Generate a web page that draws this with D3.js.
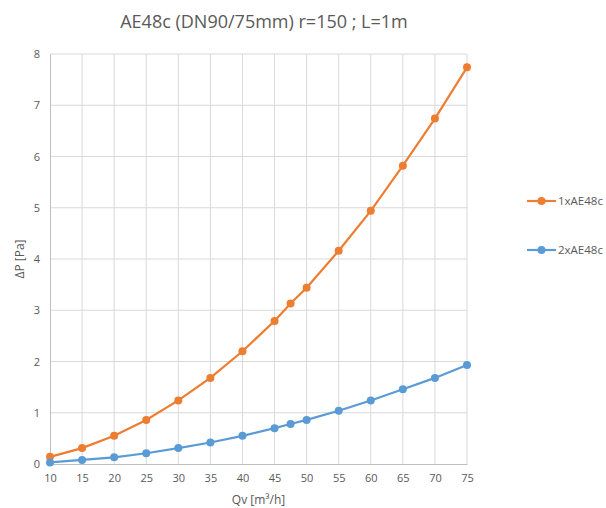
<!DOCTYPE html>
<html>
<head>
<meta charset="utf-8">
<script src="https://cdn.jsdelivr.net/npm/d3@7"></script>
<style>
  body { margin: 0; background: #fff; }
  text { font-family: "Open Sans", "Liberation Sans", sans-serif; fill: #595959; }
</style>
</head>
<body>
<script>
// values
const qv = [10, 15, 20, 25, 30, 35, 40, 45, 47.5, 50, 55, 60, 65, 70, 75];
const dp1 = [0.14, 0.31, 0.55, 0.86, 1.24, 1.68, 2.2, 2.79, 3.13, 3.44, 4.16, 4.94, 5.82, 6.74, 7.74];
const dp2 = [0.03, 0.08, 0.13, 0.21, 0.31, 0.42, 0.55, 0.7, 0.78, 0.86, 1.04, 1.24, 1.46, 1.68, 1.93];
const seriesNames = ["1xAE48c", "2xAE48c"];
const colors = ["#ed7d31", "#5b9bd5"];
const xTicks = d3.range(10, 80, 5);
const yTicks = d3.range(0, 9, 1);

const width = 606, height = 508;
const margin = { top: 54, right: 139, bottom: 44, left: 50 };

const svg = d3.select("body").append("svg")
    .attr("width", width)
    .attr("height", height);

const x = d3.scaleLinear().domain([10, 75]).range([margin.left, width - margin.right]);
const y = d3.scaleLinear().domain([0, 8]).range([height - margin.bottom, margin.top]);

// gridlines
svg.append("g")
    .selectAll("line.h")
    .data(yTicks.slice(1))
    .join("line")
    .attr("x1", margin.left).attr("x2", width - margin.right)
    .attr("y1", d => y(d)).attr("y2", d => y(d))
    .attr("stroke", "#d9d9d9");

svg.append("g")
    .selectAll("line.v")
    .data(xTicks.slice(1))
    .join("line")
    .attr("x1", d => x(d)).attr("x2", d => x(d))
    .attr("y1", margin.top).attr("y2", height - margin.bottom)
    .attr("stroke", "#d9d9d9");

// axes
const xAxis = svg.append("g")
    .attr("transform", `translate(0,${height - margin.bottom})`)
    .call(d3.axisBottom(x).tickValues(xTicks).tickSize(0).tickPadding(10));
xAxis.select(".domain").attr("stroke", "#bfbfbf");
xAxis.selectAll("text").attr("font-size", 11).attr("fill", "#595959");

const yAxis = svg.append("g")
    .attr("transform", `translate(${margin.left},0)`)
    .call(d3.axisLeft(y).tickValues(yTicks).tickSize(0).tickPadding(10));
yAxis.select(".domain").attr("stroke", "#bfbfbf");
yAxis.selectAll("text").attr("font-size", 11).attr("fill", "#595959");

// titles
svg.append("text")
    .attr("x", 264).attr("y", 28)
    .attr("text-anchor", "middle")
    .attr("font-size", 18)
    .text("AE48c (DN90/75mm) r=150 ; L=1m");

svg.append("text")
    .attr("x", x(42.5)).attr("y", 504)
    .attr("text-anchor", "middle")
    .attr("font-size", 12)
    .text("Qv [m³/h]");

svg.append("text")
    .attr("transform", `translate(24,${y(4)}) rotate(-90)`)
    .attr("text-anchor", "middle")
    .attr("font-size", 12)
    .text("ΔP [Pa]");

// series
const line = d3.line().x((d, i) => x(qv[i])).y(d => y(d));
[dp1, dp2].forEach((vals, k) => {
    const g = svg.append("g");
    g.append("path")
        .datum(vals)
        .attr("d", line)
        .attr("fill", "none")
        .attr("stroke", colors[k])
        .attr("stroke-width", 2.2);
    g.selectAll("circle")
        .data(vals)
        .join("circle")
        .attr("cx", (d, i) => x(qv[i]))
        .attr("cy", d => y(d))
        .attr("r", 4)
        .attr("fill", colors[k]);
});

// legend
const legend = svg.append("g")
    .selectAll("g")
    .data(seriesNames)
    .join("g")
    .attr("transform", (d, i) => `translate(527,${201 + i * 49})`);
legend.append("line")
    .attr("x1", 0).attr("x2", 29)
    .attr("stroke", (d, i) => colors[i])
    .attr("stroke-width", 2.2);
legend.append("circle")
    .attr("cx", 14.5).attr("r", 4)
    .attr("fill", (d, i) => colors[i]);
legend.append("text")
    .attr("x", 31).attr("dy", "0.35em")
    .attr("font-size", 11.5)
    .text(d => d);
</script>
</body>
</html>
